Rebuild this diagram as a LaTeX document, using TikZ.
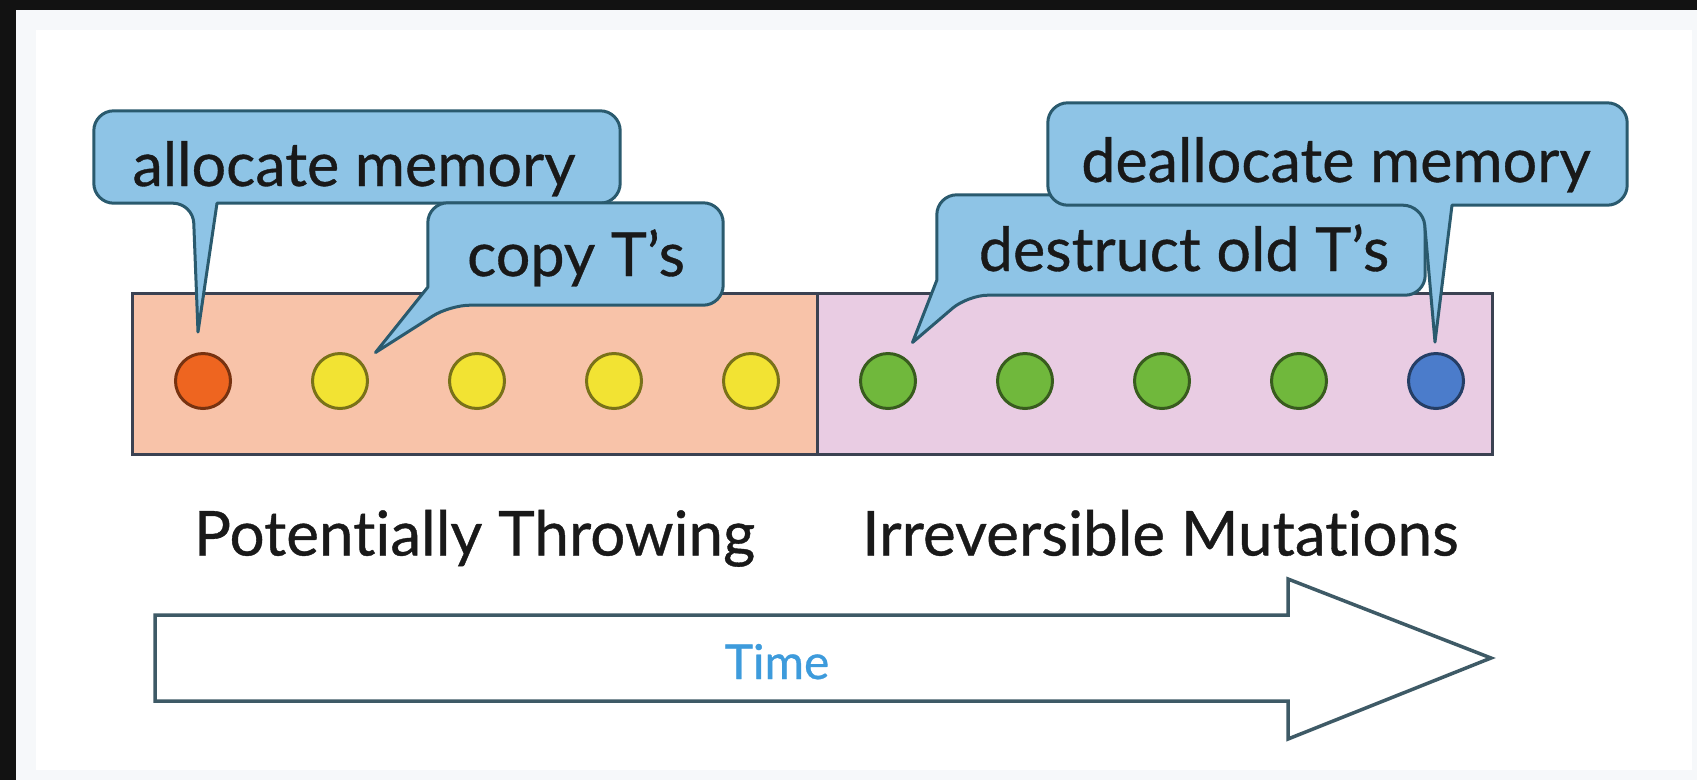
\documentclass[tikz,border=0pt]{standalone}
\usepackage{fontspec}
\setmainfont{Lato}[Ligatures=NoCommon, FakeBold=0.6]
\usetikzlibrary{calc,positioning}

\definecolor{peach}{HTML}{F8C3A9}
\definecolor{lilac}{HTML}{E9CCE3}
\definecolor{frameline}{HTML}{3B4252}
\definecolor{bubblefill}{HTML}{8EC4E6}
\definecolor{bubbleline}{HTML}{2A5A6E}
\definecolor{dotred}{HTML}{EE6520}
\definecolor{dotyellow}{HTML}{F2E333}
\definecolor{dotgreen}{HTML}{70B83C}
\definecolor{dotblue}{HTML}{4B7CCB}
\definecolor{arrowline}{HTML}{3E5A66}
\definecolor{timeblue}{HTML}{3D9BDC}
\definecolor{panel}{HTML}{F6F8FA}

\tikzset{
  phase/.style={draw=frameline, line width=3pt, inner sep=0pt},
  phase label/.style={font=\fontsize{62}{70}\selectfont, text=black!90, inner sep=0pt, anchor=base},
  bubble/.style={draw=bubbleline, fill=bubblefill, line width=3pt, line join=round},
  bubble area/.style={inner sep=0pt, minimum width=#1},
  bubble text/.style={font=\fontsize{61}{70}\selectfont, text=black!90, inner sep=0pt, anchor=base},
  dot/.style={circle, draw=#1!50!black, fill=#1, line width=3pt, minimum size=55pt, inner sep=0pt}
}

\begin{document}
\begin{tikzpicture}[x=1pt, y=-1pt]
  \useasboundingbox (0,0) rectangle (1697,780);
  % frame
  \fill[panel] (16,10) rectangle (1697,780);
  \fill[white] (36,30) rectangle (1692,770);
  \fill[black!93] (0,0) rectangle (1697,10);
  \fill[black!93] (0,0) rectangle (16,780);

  % the two phases
  \node[phase, fill=peach, minimum width=685pt, minimum height=161pt] (throw) at (474.5,373.5) {};
  \node[phase, fill=lilac, minimum width=675pt, minimum height=161pt] (mutate) at (1154.5,373.5) {};

  % steps
  \foreach \i/\col in {1/dotred, 2/dotyellow, 3/dotyellow, 4/dotyellow, 5/dotyellow,
                       6/dotgreen, 7/dotgreen, 8/dotgreen, 9/dotgreen, 10/dotblue}
    \node[dot=\col] (c\i) at ({203+137*(\i-1)},381) {};

  % callouts
  \node[bubble area=526pt, minimum height=92pt] (alloc) at (357,157) {};
  \draw[bubble] ($(alloc.south -| c1)+(-10,0)$) -- ($(c1.north)+(-5,-20)$)
    -- ($(alloc.south -| c1)+(14,0)$) [rounded corners=20pt] -- (alloc.south east)
    -- (alloc.north east) -- (alloc.north west) -- (alloc.south west) -- cycle;
  \node[bubble text] (alloc-t) at (354,186) {allocate memory};

  \node[bubble area=295pt, minimum height=102pt] (copy) at (575.5,254) {};
  \draw[bubble] ($(copy.south west)+(22,0)$) -- ($(c2.north east)+(15,-8)$)
    -- ($(copy.south west)+(0,-18)$) [rounded corners=20pt] -- (copy.north west)
    -- (copy.north east) -- (copy.south east) -- cycle;
  \node[bubble text] (copy-t) at (576,276) {copy T’s};

  \node[bubble area=488pt, minimum height=100pt] (destruct) at (1181,245) {};
  \draw[bubble] ($(destruct.south west)+(31,0)$) -- ($(c6.north east)+(4,-18)$)
    -- ($(destruct.south west)+(0,-15)$) [rounded corners=20pt] -- (destruct.north west)
    -- (destruct.north east) -- (destruct.south east) -- cycle;
  \node[bubble text] (destruct-t) at (1184,271) {destruct old T’s};

  \node[bubble area=579pt, minimum height=102pt] (dealloc) at (1337.5,154) {};
  \draw[bubble] ($(dealloc.south -| c10)+(-13,0)$) -- ($(c10.north)+(-1,-10)$)
    -- ($(dealloc.south -| c10)+(16,0)$) [rounded corners=20pt] -- (dealloc.south east)
    -- (dealloc.north east) -- (dealloc.north west) -- (dealloc.south west) -- cycle;
  \node[bubble text] (dealloc-t) at (1336,182) {deallocate memory};

  % phase names
  \node[phase label] (throw-l) at ($(throw.south)+(0,100)$) {Potentially Throwing};
  \node[phase label] (mutate-l) at ($(mutate.south)+(6,100)$) {Irreversible Mutations};

  % time axis
  \draw[draw=arrowline, fill=white, line width=3.5pt, line join=miter]
    (155,615) -- (1288,615) -- (1288,579) -- (1491,658) -- (1288,739) -- (1288,701)
    -- (155,701) -- cycle;
  \node[font=\fontsize{48}{54}\selectfont, text=timeblue, inner sep=0pt, anchor=base] (time) at (777,679) {Time};
\end{tikzpicture}
\end{document}
